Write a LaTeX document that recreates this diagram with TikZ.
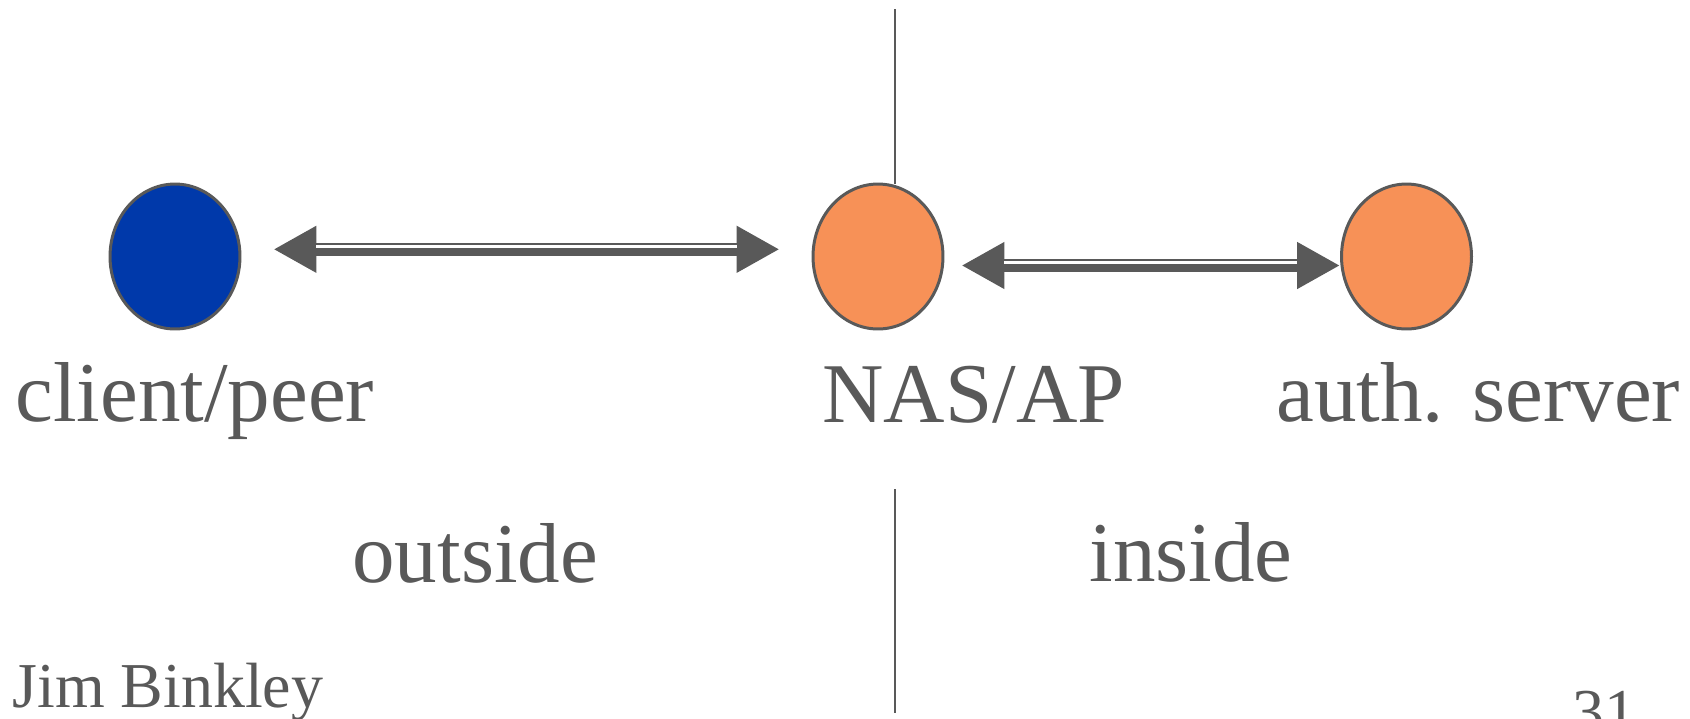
\documentclass[tikz,border=0pt]{standalone}
\usepackage{fontspec}
\setmainfont{Liberation Serif}
\usepackage{tikz}
\usetikzlibrary{shapes.geometric, arrows.meta}
\definecolor{mygray}{RGB}{89,89,89}
\definecolor{myblue}{RGB}{0,57,170}
\definecolor{myorange}{RGB}{247,145,87}
\tikzset{
  station/.style={ellipse, draw=mygray, line width=0.06cm,
    minimum width=2.6cm, minimum height=2.9cm, inner sep=0pt},
  lbl/.style={text=mygray, anchor=base west, inner sep=0pt,
    font=\fontsize{48.4}{58}\selectfont},
  small/.style={text=mygray, anchor=base west, inner sep=0pt,
    font=\fontsize{36.4}{44}\selectfont},
  link/.style={draw=mygray, line width=0.25cm,
    {Triangle[length=0.86cm, width=0.88cm]}-{Triangle[length=0.86cm, width=0.88cm]}},
  gap/.style={draw=white, line width=0.072cm},
  divider/.style={draw=mygray, line width=0.054cm}
}

\begin{document}
\begin{tikzpicture}[x=0.02cm, y=-0.02cm]
  \useasboundingbox (0,0) rectangle (1690,718);

  % Stations
  \node[station, fill=myblue] (client) at (175,256.5) {};
  \node[station, fill=myorange] (nas) at (878,256.5) {};
  \node[station, fill=myorange] (auth) at (1406.5,256.5) {};

  % Labels
  \node[lbl] (clientlbl) at (15,421) {client/peer};
  \node[lbl] (naslbl) at (822,422) {NAS/AP};
  \node[lbl] (authlbl) at (1276,421) {auth. server};
  \node[lbl] (outlbl) at (352,582) {outside};
  \node[lbl] (inlbl) at (1089,581) {inside};
  \node[small] (author) at (12,707) {Jim Binkley};
  \node[small] (page) at (1572,733) {31};

  % Border between outside and inside
  \coordinate (topa) at (895,9);
  \coordinate (topb) at (895,184);
  \coordinate (bota) at (895,489);
  \coordinate (botb) at (895,713);
  \draw[divider] (topa) -- (topb);
  \draw[divider] (bota) -- (botb);

  % Links
  \draw[link, shorten <=0.64cm, shorten >=0.64cm, transform canvas={yshift=0.144cm}] (client) -- (nas);
  \draw[gap, shorten <=1.5cm, shorten >=1.5cm, transform canvas={yshift=0.2cm}] (client) -- (nas);

  \draw[link, shorten <=0.34cm, transform canvas={yshift=-0.18cm}] (nas) -- (auth);
  \draw[gap, shorten <=1.2cm, shorten >=0.86cm, transform canvas={yshift=-0.12cm}] (nas) -- (auth);
\end{tikzpicture}
\end{document}
